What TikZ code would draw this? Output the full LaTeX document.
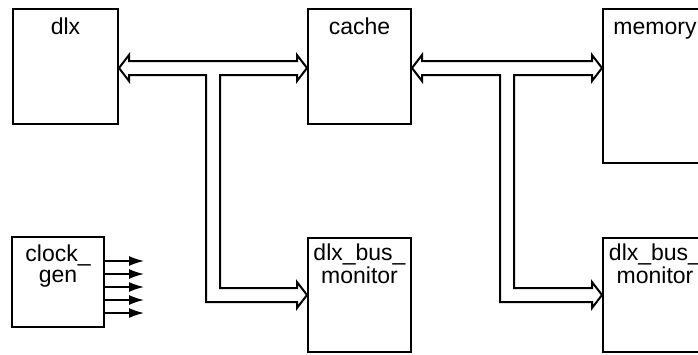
\documentclass[tikz,border=0pt]{standalone}
\usepackage{fontspec}
\setmainfont{Liberation Sans}
\usetikzlibrary{calc,arrows.meta}

\begin{document}
\begin{tikzpicture}[x=1pt, y=-1pt]
\tikzset{
  blk/.style={draw, line width=2pt, inner sep=0pt},
  lab/.style={font=\fontsize{23}{21}\selectfont, align=center, inner sep=0pt},
  bus/.style={draw, line width=2pt, line join=miter},
  clk/.style={line width=1.6pt, -{Latex[length=15pt, width=10pt]}}}

\useasboundingbox (0,0) rectangle (698,354);
\clip (0,0) rectangle (698,354);

% ---------------- blocks ----------------
\node[blk, minimum width=105pt, minimum height=115pt] (dlx)    at (65.5,66.5)  {};
\node[blk, minimum width=103pt, minimum height=115pt] (cache)  at (359.5,66.5) {};
\node[blk, minimum width=104pt, minimum height=154pt] (memory) at (655,86)     {};
\node[blk, minimum width=92pt,  minimum height=90pt]  (clockgen) at (58,282)   {};
\node[blk, minimum width=103pt, minimum height=114pt] (dlxmon) at (359.5,295)  {};
\node[blk, minimum width=104pt, minimum height=114pt] (memmon) at (655,295)    {};

% labels sit on the last baseline, so two-line ones go one line lower
\node[lab, anchor=base] (dlxlab)    at ($(dlx.north)+(0,26)$)    {dlx};
\node[lab, anchor=base] (cachelab)  at ($(cache.north)+(0,26)$)  {cache};
\node[lab, anchor=base] (memlab)    at ($(memory.north)+(0,26)$) {memory};
\node[lab, anchor=base] (clocklab)  at ($(clockgen.north)+(0,46)$) {clock\_\\gen};
\node[lab, anchor=base] (dlxmonlab) at ($(dlxmon.north)+(0,46)$) {dlx\_bus\_\\monitor};
\node[lab, anchor=base] (memmonlab) at ($(memmon.north)+(0,46)$) {dlx\_bus\_\\monitor};

% ---------------- buses: dlx -- cache, cache -- memory ----------------
\coordinate (l1) at (dlx.east |- 0,68);
\coordinate (r1) at (cache.west |- 0,68);
\coordinate (m1) at ($(l1)!0.5!(r1)$);
\coordinate (d1) at (dlxmon.west);
\draw[bus] (l1) -- ++(10,-13) -- ++(0,6) -- ($(r1)+(-10,-7)$) -- ++(0,-6) -- (r1)
  -- ++(-10,13) -- ++(0,-6) -- ($(m1)+(7,7)$) -- ($(m1 |- d1)+(7,-7)$)
  -- ($(d1)+(-10,-7)$) -- ++(0,-6) -- (d1) -- ++(-10,13) -- ++(0,-6)
  -- ($(m1 |- d1)+(-7,7)$) -- ($(m1)+(-7,7)$) -- ($(l1)+(10,7)$) -- ++(0,6) -- cycle;

\coordinate (l2) at (cache.east |- 0,68);
\coordinate (r2) at (memory.west |- 0,68);
\coordinate (m2) at ($(l2)!0.5!(r2)$);
\coordinate (d2) at (memmon.west);
\draw[bus] (l2) -- ++(10,-13) -- ++(0,6) -- ($(r2)+(-10,-7)$) -- ++(0,-6) -- (r2)
  -- ++(-10,13) -- ++(0,-6) -- ($(m2)+(7,7)$) -- ($(m2 |- d2)+(7,-7)$)
  -- ($(d2)+(-10,-7)$) -- ++(0,-6) -- (d2) -- ++(-10,13) -- ++(0,-6)
  -- ($(m2 |- d2)+(-7,7)$) -- ($(m2)+(-7,7)$) -- ($(l2)+(10,7)$) -- ++(0,6) -- cycle;

% ---------------- clock outputs ----------------
\foreach \i in {0,...,4}
  \draw[clk] ($(clockgen.north east)+(0,25+13*\i)$) -- ++(39,0);
\end{tikzpicture}
\end{document}
